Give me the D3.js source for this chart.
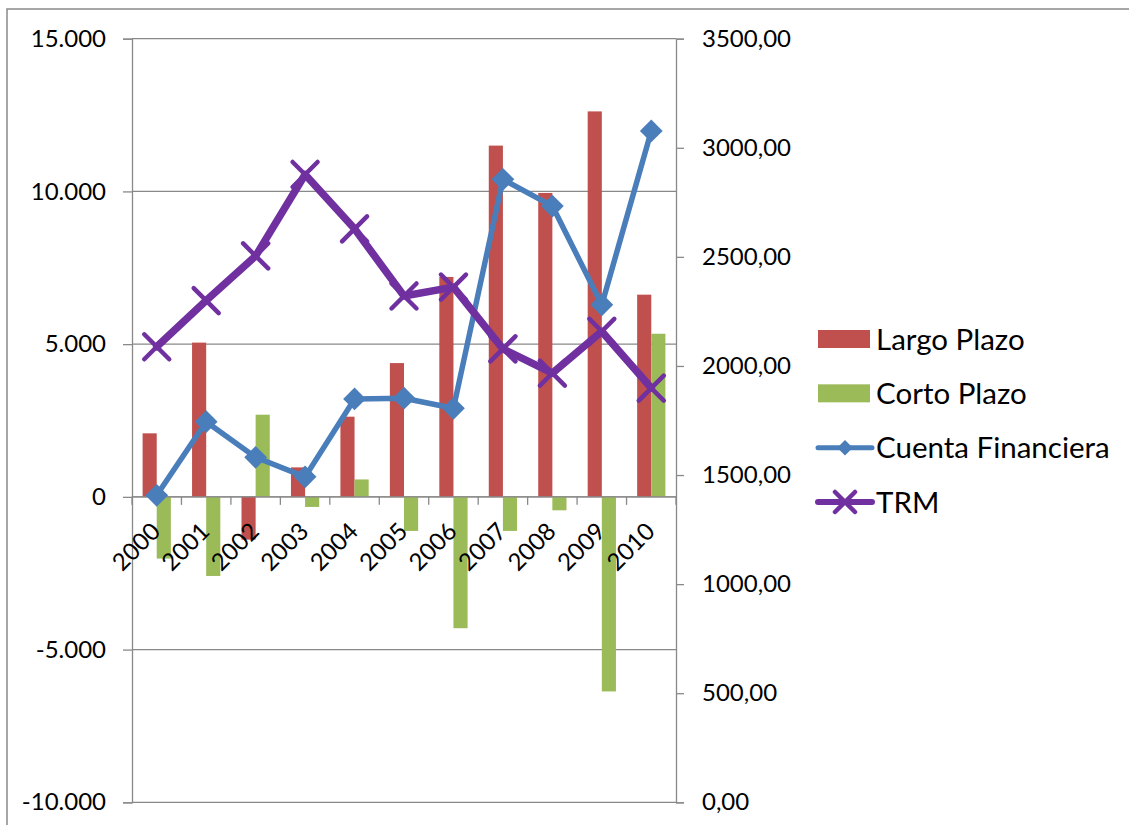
<!DOCTYPE html>
<html>
<head>
<meta charset="utf-8">
<script src="https://cdn.jsdelivr.net/npm/d3@7/dist/d3.min.js"></script>
<style>
  html, body { margin: 0; padding: 0; background: #fff; }
  svg { display: block; }
  text { font-family: Lato, "Liberation Sans", sans-serif; fill: #000; }
</style>
</head>
<body>
<svg id="chart" width="1129" height="825"></svg>
<script>
// Colombia: flujos de la cuenta financiera (millones USD) y TRM promedio anual
const years = ["2000","2001","2002","2003","2004","2005","2006","2007","2008","2009","2010"];
const largoPlazo = [2080, 5050, -1400, 965, 2625, 4380, 7200, 11500, 9950, 12620, 6620];
const cortoPlazo = [-2020, -2590, 2690, -330, 570, -1115, -4300, -1115, -440, -6370, 5340];
const cuentaFinanciera = [50, 2460, 1295, 655, 3205, 3230, 2900, 10395, 9520, 6290, 11980];
const trm = [2087.9, 2299.6, 2504.2, 2877.6, 2628.6, 2320.8, 2361.1, 2078.4, 1967.1, 2158.3, 1898.7];
const leftTicks = [-10000, -5000, 0, 5000, 10000, 15000];
const rightTicks = [0, 500, 1000, 1500, 2000, 2500, 3000, 3500];

const seriesNames = ["Largo Plazo", "Corto Plazo", "Cuenta Financiera", "TRM"];
const colors = {
  "Largo Plazo": "#C0504D",
  "Corto Plazo": "#9BBB59",
  "Cuenta Financiera": "#4A7EBB",
  "TRM": "#7030A0"
};

const svg = d3.select("#chart");
const plot = { left: 132, right: 676, top: 38.7, bottom: 802.3 };
const axisGray = "#898989";

// outer chart frame
svg.append("rect")
  .attr("x", 7).attr("y", 9).attr("width", 1140).attr("height", 840)
  .attr("fill", "none").attr("stroke", axisGray).attr("stroke-width", 1.5);

const x = d3.scaleBand().domain(years).range([plot.left, plot.right]).padding(0);
const xSub = d3.scaleBand().domain(["Largo Plazo", "Corto Plazo"])
  .range([0, x.bandwidth()]).paddingInner(0).paddingOuter(0.75);
const yL = d3.scaleLinear().domain([-10000, 15000]).range([plot.bottom, plot.top]);
const yR = d3.scaleLinear().domain([0, 3500]).range([plot.bottom, plot.top]);

const fmtLeft = d3.formatLocale({ decimal: ",", thousands: ".", grouping: [3], currency: ["$", ""], minus: "-" }).format(",.0f");
const fmtRight = d3.formatLocale({ decimal: ",", thousands: "", grouping: [3], currency: ["$", ""], minus: "-" }).format(".2f");

// horizontal gridlines on left-axis ticks
svg.append("g").selectAll("line").data(leftTicks).join("line")
  .attr("x1", plot.left).attr("x2", plot.right)
  .attr("y1", d => yL(d)).attr("y2", d => yL(d))
  .attr("stroke", axisGray).attr("stroke-width", 1.3);

// left axis
const gL = svg.append("g").attr("transform", `translate(${plot.left},0)`)
  .call(d3.axisLeft(yL).tickValues(leftTicks).tickSize(9).tickPadding(17).tickFormat(fmtLeft));
gL.select(".domain").attr("stroke", axisGray).attr("stroke-width", 1.3);
gL.selectAll(".tick line").attr("stroke", axisGray).attr("stroke-width", 1.3);
gL.selectAll(".tick text").attr("font-size", 24).attr("font-family", "Lato, 'Liberation Sans', sans-serif").attr("fill", "#000");

// right axis
const gR = svg.append("g").attr("transform", `translate(${plot.right},0)`)
  .call(d3.axisRight(yR).tickValues(rightTicks).tickSize(8).tickPadding(18).tickFormat(fmtRight));
gR.select(".domain").attr("stroke", axisGray).attr("stroke-width", 1.3);
gR.selectAll(".tick line").attr("stroke", axisGray).attr("stroke-width", 1.3);
gR.selectAll(".tick text").attr("font-size", 24).attr("font-family", "Lato, 'Liberation Sans', sans-serif").attr("fill", "#000");

// bars
const barData = years.map((yr, i) => [
  { year: yr, key: "Largo Plazo", value: largoPlazo[i] },
  { year: yr, key: "Corto Plazo", value: cortoPlazo[i] }
]).flat();
svg.append("g").selectAll("rect").data(barData).join("rect")
  .attr("x", d => x(d.year) + xSub(d.key))
  .attr("width", xSub.bandwidth())
  .attr("y", d => yL(Math.max(0, d.value)))
  .attr("height", d => Math.abs(yL(d.value) - yL(0)))
  .attr("fill", d => colors[d.key]);

// category axis on the zero line
const zeroY = yL(0);
const gX = svg.append("g").attr("transform", `translate(0,${zeroY})`);
gX.append("line").attr("x1", plot.left).attr("x2", plot.right)
  .attr("stroke", axisGray).attr("stroke-width", 1.3);
const boundaries = years.map(yr => x(yr)).concat([plot.right]);
gX.selectAll("line.tk").data(boundaries).join("line").attr("class", "tk")
  .attr("x1", d => d).attr("x2", d => d).attr("y1", 0).attr("y2", 8)
  .attr("stroke", axisGray).attr("stroke-width", 1.3);
gX.selectAll("text").data(years).join("text")
  .attr("transform", d => `translate(${x(d) + x.bandwidth() / 2 + 5},${36}) rotate(-45)`)
  .attr("text-anchor", "end")
  .attr("font-size", 24)
  .text(d => d);

const cx = d => x(d) + x.bandwidth() / 2;

// Cuenta Financiera line with diamonds
const lineL = d3.line().x((d, i) => cx(years[i])).y(d => yL(d));
svg.append("path").datum(cuentaFinanciera)
  .attr("d", lineL).attr("fill", "none")
  .attr("stroke", colors["Cuenta Financiera"]).attr("stroke-width", 5.5)
  .attr("stroke-linejoin", "round").attr("stroke-linecap", "round");
const diamond = d3.symbol().type(d3.symbolSquare).size(260);
svg.append("g").selectAll("path").data(cuentaFinanciera).join("path")
  .attr("d", diamond)
  .attr("transform", (d, i) => `translate(${cx(years[i])},${yL(d)}) rotate(45)`)
  .attr("fill", colors["Cuenta Financiera"]);

// TRM line with X markers (right axis)
const lineR = d3.line().x((d, i) => cx(years[i])).y(d => yR(d));
svg.append("path").datum(trm)
  .attr("d", lineR).attr("fill", "none")
  .attr("stroke", colors["TRM"]).attr("stroke-width", 7.5)
  .attr("stroke-linejoin", "round").attr("stroke-linecap", "round");
const xr = 12.5;
svg.append("g").selectAll("path").data(trm).join("path")
  .attr("d", `M${-xr},${-xr}L${xr},${xr}M${-xr},${xr}L${xr},${-xr}`)
  .attr("transform", (d, i) => `translate(${cx(years[i])},${yR(d)})`)
  .attr("stroke", colors["TRM"]).attr("stroke-width", 4.5).attr("stroke-linecap", "round")
  .attr("fill", "none");

// legend
const legend = svg.append("g").attr("transform", "translate(818,0)");
const legendY = d3.scalePoint().domain(seriesNames).range([339, 502]);
seriesNames.forEach(name => {
  const g = legend.append("g").attr("transform", `translate(0,${legendY(name)})`);
  if (name === "Largo Plazo" || name === "Corto Plazo") {
    g.append("rect").attr("x", 0).attr("y", -9).attr("width", 52).attr("height", 18)
      .attr("fill", colors[name]);
  } else {
    g.append("line").attr("x1", 0).attr("x2", 54).attr("y1", 0).attr("y2", 0)
      .attr("stroke", colors[name]).attr("stroke-width", name === "TRM" ? 6 : 5)
      .attr("stroke-linecap", "round");
    if (name === "Cuenta Financiera") {
      g.append("path").attr("d", d3.symbol().type(d3.symbolSquare).size(120))
        .attr("transform", "translate(27,0) rotate(45)").attr("fill", colors[name]);
    } else {
      const r = 10;
      g.append("path").attr("d", `M${27 - r},${-r}L${27 + r},${r}M${27 - r},${r}L${27 + r},${-r}`)
        .attr("stroke", colors[name]).attr("stroke-width", 4.5).attr("stroke-linecap", "round");
    }
  }
  g.append("text").attr("x", 58).attr("y", 0).attr("dy", "0.36em")
    .attr("font-size", 29.5).text(name);
});
</script>
</body>
</html>
